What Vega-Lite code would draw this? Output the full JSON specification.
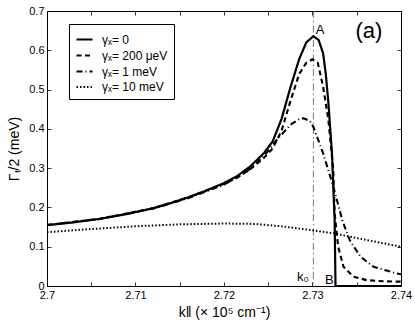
{
  "$schema": "https://vega.github.io/schema/vega-lite/v6.json",
  "width": 354,
  "height": 275,
  "autosize": {"type": "none"},
  "padding": {"left": 47, "top": 11, "right": 14, "bottom": 39},
  "config": {
    "view": {"stroke": "#000", "strokeWidth": 1},
    "font": "Liberation Sans",
    "axis": {
      "domain": false,
      "grid": false,
      "ticks": true,
      "tickSize": -4,
      "tickColor": "#000",
      "tickWidth": 0.8,
      "labelFont": "Liberation Sans",
      "labelFontSize": 11,
      "labelColor": "#000",
      "titleFont": "Liberation Sans",
      "titleFontSize": 14,
      "titleFontWeight": "normal",
      "titleColor": "#000"
    },
    "legend": {
      "orient": "none",
      "legendX": 22,
      "legendY": 13,
      "fillColor": "#fff",
      "strokeColor": "#000",
      "padding": 6,
      "symbolType": "stroke",
      "symbolStrokeColor": "#000",
      "symbolSize": 256,
      "labelFont": "Liberation Sans",
      "labelFontSize": 12,
      "labelColor": "#000",
      "rowPadding": 0,
      "labelOffset": 8
    }
  },
  "datasets": {
    "curves": [
      {"k": 2.700, "v": 0.155, "s": "γₓ= 0"},
      {"k": 2.703, "v": 0.162, "s": "γₓ= 0"},
      {"k": 2.706, "v": 0.171, "s": "γₓ= 0"},
      {"k": 2.709, "v": 0.183, "s": "γₓ= 0"},
      {"k": 2.712, "v": 0.198, "s": "γₓ= 0"},
      {"k": 2.714, "v": 0.211, "s": "γₓ= 0"},
      {"k": 2.716, "v": 0.226, "s": "γₓ= 0"},
      {"k": 2.718, "v": 0.243, "s": "γₓ= 0"},
      {"k": 2.720, "v": 0.262, "s": "γₓ= 0"},
      {"k": 2.7215, "v": 0.280, "s": "γₓ= 0"},
      {"k": 2.723, "v": 0.305, "s": "γₓ= 0"},
      {"k": 2.7245, "v": 0.338, "s": "γₓ= 0"},
      {"k": 2.7255, "v": 0.368, "s": "γₓ= 0"},
      {"k": 2.7265, "v": 0.425, "s": "γₓ= 0"},
      {"k": 2.7275, "v": 0.505, "s": "γₓ= 0"},
      {"k": 2.7285, "v": 0.578, "s": "γₓ= 0"},
      {"k": 2.7293, "v": 0.620, "s": "γₓ= 0"},
      {"k": 2.7301, "v": 0.636, "s": "γₓ= 0"},
      {"k": 2.7307, "v": 0.626, "s": "γₓ= 0"},
      {"k": 2.7312, "v": 0.592, "s": "γₓ= 0"},
      {"k": 2.7315, "v": 0.540, "s": "γₓ= 0"},
      {"k": 2.7318, "v": 0.465, "s": "γₓ= 0"},
      {"k": 2.7322, "v": 0.338, "s": "γₓ= 0"},
      {"k": 2.7325, "v": 0.168, "s": "γₓ= 0"},
      {"k": 2.7326, "v": 0.0, "s": "γₓ= 0"},
      {"k": 2.7400, "v": 0.0, "s": "γₓ= 0"},

      {"k": 2.700, "v": 0.155, "s": "γₓ= 200 μeV"},
      {"k": 2.706, "v": 0.171, "s": "γₓ= 200 μeV"},
      {"k": 2.712, "v": 0.198, "s": "γₓ= 200 μeV"},
      {"k": 2.716, "v": 0.226, "s": "γₓ= 200 μeV"},
      {"k": 2.720, "v": 0.260, "s": "γₓ= 200 μeV"},
      {"k": 2.7215, "v": 0.276, "s": "γₓ= 200 μeV"},
      {"k": 2.723, "v": 0.298, "s": "γₓ= 200 μeV"},
      {"k": 2.7245, "v": 0.326, "s": "γₓ= 200 μeV"},
      {"k": 2.7255, "v": 0.350, "s": "γₓ= 200 μeV"},
      {"k": 2.7265, "v": 0.395, "s": "γₓ= 200 μeV"},
      {"k": 2.7275, "v": 0.470, "s": "γₓ= 200 μeV"},
      {"k": 2.7285, "v": 0.540, "s": "γₓ= 200 μeV"},
      {"k": 2.7293, "v": 0.568, "s": "γₓ= 200 μeV"},
      {"k": 2.7300, "v": 0.577, "s": "γₓ= 200 μeV"},
      {"k": 2.7306, "v": 0.568, "s": "γₓ= 200 μeV"},
      {"k": 2.7312, "v": 0.507, "s": "γₓ= 200 μeV"},
      {"k": 2.7318, "v": 0.422, "s": "γₓ= 200 μeV"},
      {"k": 2.73235, "v": 0.295, "s": "γₓ= 200 μeV"},
      {"k": 2.7325, "v": 0.185, "s": "γₓ= 200 μeV"},
      {"k": 2.7329, "v": 0.100, "s": "γₓ= 200 μeV"},
      {"k": 2.7335, "v": 0.049, "s": "γₓ= 200 μeV"},
      {"k": 2.7346, "v": 0.024, "s": "γₓ= 200 μeV"},
      {"k": 2.7361, "v": 0.015, "s": "γₓ= 200 μeV"},
      {"k": 2.7380, "v": 0.012, "s": "γₓ= 200 μeV"},
      {"k": 2.7400, "v": 0.011, "s": "γₓ= 200 μeV"},

      {"k": 2.700, "v": 0.155, "s": "γₓ= 1 meV"},
      {"k": 2.706, "v": 0.171, "s": "γₓ= 1 meV"},
      {"k": 2.712, "v": 0.197, "s": "γₓ= 1 meV"},
      {"k": 2.716, "v": 0.224, "s": "γₓ= 1 meV"},
      {"k": 2.720, "v": 0.258, "s": "γₓ= 1 meV"},
      {"k": 2.7225, "v": 0.290, "s": "γₓ= 1 meV"},
      {"k": 2.7245, "v": 0.330, "s": "γₓ= 1 meV"},
      {"k": 2.7260, "v": 0.373, "s": "γₓ= 1 meV"},
      {"k": 2.7275, "v": 0.410, "s": "γₓ= 1 meV"},
      {"k": 2.7285, "v": 0.425, "s": "γₓ= 1 meV"},
      {"k": 2.7290, "v": 0.427, "s": "γₓ= 1 meV"},
      {"k": 2.7297, "v": 0.420, "s": "γₓ= 1 meV"},
      {"k": 2.7301, "v": 0.405, "s": "γₓ= 1 meV"},
      {"k": 2.7312, "v": 0.338, "s": "γₓ= 1 meV"},
      {"k": 2.73235, "v": 0.253, "s": "γₓ= 1 meV"},
      {"k": 2.7334, "v": 0.165, "s": "γₓ= 1 meV"},
      {"k": 2.7342, "v": 0.117, "s": "γₓ= 1 meV"},
      {"k": 2.7354, "v": 0.075, "s": "γₓ= 1 meV"},
      {"k": 2.7369, "v": 0.049, "s": "γₓ= 1 meV"},
      {"k": 2.7395, "v": 0.032, "s": "γₓ= 1 meV"},
      {"k": 2.7400, "v": 0.030, "s": "γₓ= 1 meV"},

      {"k": 2.700, "v": 0.137, "s": "γₓ= 10 meV"},
      {"k": 2.705, "v": 0.145, "s": "γₓ= 10 meV"},
      {"k": 2.710, "v": 0.152, "s": "γₓ= 10 meV"},
      {"k": 2.715, "v": 0.157, "s": "γₓ= 10 meV"},
      {"k": 2.720, "v": 0.159, "s": "γₓ= 10 meV"},
      {"k": 2.7235, "v": 0.158, "s": "γₓ= 10 meV"},
      {"k": 2.7265, "v": 0.152, "s": "γₓ= 10 meV"},
      {"k": 2.7286, "v": 0.146, "s": "γₓ= 10 meV"},
      {"k": 2.7324, "v": 0.134, "s": "γₓ= 10 meV"},
      {"k": 2.7361, "v": 0.117, "s": "γₓ= 10 meV"},
      {"k": 2.7400, "v": 0.100, "s": "γₓ= 10 meV"}
    ],
    "k0": [{"k": 2.7301}],
    "notes": [
      {"k": 2.73085, "v": 0.651, "t": "A"},
      {"k": 2.73189, "v": 0.016, "t": "B"},
      {"k": 2.72893, "v": 0.024, "t": "k₀"}
    ],
    "panel": [{"k": 2.73638, "v": 0.649, "t": "(a)"}]
  },
  "resolve": {"axis": {"x": "independent", "y": "independent"}},
  "layer": [
    {
      "data": {"name": "k0"},
      "mark": {"type": "rule", "color": "#555", "strokeWidth": 0.8, "strokeDash": [7, 3, 1.5, 3]},
      "encoding": {
        "x": {"field": "k", "type": "quantitative", "scale": {"domain": [2.7, 2.74], "nice": false, "zero": false}, "axis": null}
      }
    },
    {
      "data": {"name": "curves"},
      "mark": {"type": "line", "color": "#000", "clip": true},
      "encoding": {
        "x": {
          "field": "k", "type": "quantitative",
          "scale": {"domain": [2.7, 2.74], "nice": false, "zero": false},
          "axis": {
            "orient": "bottom",
            "values": [2.7, 2.705, 2.71, 2.715, 2.72, 2.725, 2.73, 2.735, 2.74],
            "labelExpr": "round(datum.value*1000) % 10 == 0 ? format(datum.value, '~g') : ''",
            "labelPadding": 7,
            "labelFlush": false,
            "title": "k‖  (× 10⁵  cm⁻¹)",
            "titlePadding": 5
          }
        },
        "y": {
          "field": "v", "type": "quantitative",
          "scale": {"domain": [0, 0.7], "nice": false},
          "axis": {
            "orient": "left",
            "values": [0, 0.1, 0.2, 0.3, 0.4, 0.5, 0.6, 0.7],
            "format": "~g",
            "labelPadding": 7,
            "title": "Γₜ/2  (meV)",
            "titlePadding": 7
          }
        },
        "strokeDash": {
          "field": "s", "type": "nominal",
          "scale": {
            "domain": ["γₓ= 0", "γₓ= 200 μeV", "γₓ= 1 meV", "γₓ= 10 meV"],
            "range": [[1, 0], [5, 3.5], [6, 3, 1, 3], [1.5, 2]]
          },
          "legend": {"title": null}
        },
        "strokeWidth": {
          "field": "s", "type": "nominal",
          "scale": {
            "domain": ["γₓ= 0", "γₓ= 200 μeV", "γₓ= 1 meV", "γₓ= 10 meV"],
            "range": [2.2, 2, 0.9, 1.6]
          },
          "legend": {"title": null}
        }
      }
    },
    {
      "data": {"name": "notes"},
      "mark": {"type": "text", "fontSize": 13, "align": "center", "baseline": "middle", "color": "#000", "font": "Liberation Sans"},
      "encoding": {
        "x": {
          "field": "k", "type": "quantitative",
          "scale": {"domain": [2.7, 2.74], "nice": false, "zero": false},
          "axis": {"orient": "top", "values": [2.7, 2.705, 2.71, 2.715, 2.72, 2.725, 2.73, 2.735, 2.74], "labels": false, "title": null}
        },
        "y": {
          "field": "v", "type": "quantitative",
          "scale": {"domain": [0, 0.7], "nice": false},
          "axis": {"orient": "right", "values": [0, 0.1, 0.2, 0.3, 0.4, 0.5, 0.6, 0.7], "labels": false, "title": null}
        },
        "text": {"field": "t"}
      }
    },
    {
      "data": {"name": "panel"},
      "mark": {"type": "text", "fontSize": 22, "align": "center", "baseline": "middle", "color": "#000", "font": "Liberation Sans"},
      "encoding": {
        "x": {"field": "k", "type": "quantitative", "scale": {"domain": [2.7, 2.74], "nice": false, "zero": false}, "axis": null},
        "y": {"field": "v", "type": "quantitative", "scale": {"domain": [0, 0.7], "nice": false}, "axis": null},
        "text": {"field": "t"}
      }
    }
  ]
}
